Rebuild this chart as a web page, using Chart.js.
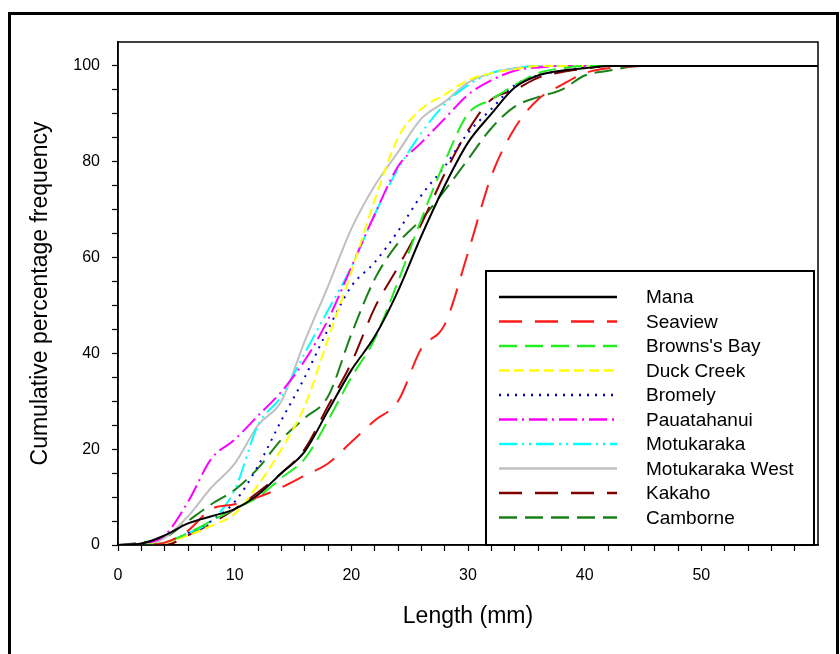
<!DOCTYPE html>
<html>
<head>
<meta charset="utf-8">
<title>Cumulative length frequency</title>
<script src="https://cdn.jsdelivr.net/npm/chart.js@4.4.1/dist/chart.umd.min.js"></script>
<style>
    body { margin: 0; background: #fff; }
    #chart { display: block; }
</style>
</head>
<body>
<canvas id="chart" width="840" height="654"></canvas>
<script>
// Length classes (mm) shared by every site
const lengths = [0, 2, 4, 6, 8, 10, 12, 14, 16, 18, 20, 22, 24, 26, 28, 30, 32, 34, 36, 38, 40, 42, 45, 50, 60];

// Cumulative percentage frequency per site
const mana        = [0, 0.3, 2, 4.5, 6, 7.5, 10.5, 15, 19.5, 28, 36.5, 43.5, 53, 64.5, 75, 84, 90, 95.5, 98, 99, 99.5, 100, 100, 100, 100];
const seaview     = [0, 0, 0.5, 3, 7.5, 8.5, 10, 12, 14.5, 17, 21.5, 26, 30, 41, 46, 61, 77, 87, 93, 96, 98.5, 99.5, 100, 100, 100];
const brownsBay   = [0, 0, 0.5, 2.5, 5, 7.5, 10, 14, 18, 26, 35, 43, 55, 68, 80, 90, 93, 96, 98.5, 99.5, 100, 100, 100, 100, 100];
const duckCreek   = [0, 0, 0.5, 2, 4, 6.5, 12.5, 20, 29, 43, 57, 72, 85, 91, 94, 97, 98.5, 99.3, 100, 100, 100, 100, 100, 100, 100];
const bromely     = [0, 0, 0.5, 2.5, 5, 9, 16.5, 26, 35, 45, 54, 59, 65.5, 73, 79, 86, 91, 96, 98, 99, 99.7, 100, 100, 100, 100];
const pauatahanui = [0, 0.3, 2, 9, 18, 22, 27, 32, 38.5, 47, 58, 69, 79, 84, 89, 94, 97, 99, 99.7, 100, 100, 100, 100, 100, 100];
const motukaraka  = [0, 0, 0.5, 2.5, 5, 11.5, 25, 31, 40, 49, 58, 69, 78.5, 86, 92, 96, 98.5, 99.5, 100, 100, 100, 100, 100, 100, 100];
const motuWest    = [0, 0, 1.5, 6, 12, 17, 25, 30, 42.5, 54, 66, 75, 82, 89, 92.5, 96.5, 98.5, 99.5, 100, 100, 100, 100, 100, 100, 100];
const kakaho      = [0, 0, 0, 2, 4.5, 7.5, 11, 15, 20, 29, 38, 49.5, 58, 67, 77.5, 86.5, 93, 95, 97.5, 98.7, 99.4, 100, 100, 100, 100];
const camborne    = [0, 0.5, 1.5, 5, 8.5, 11.5, 16, 22, 26.5, 31, 44, 55.5, 63, 68, 74, 80.5, 87, 91.5, 93.5, 95, 98, 99, 100, 100, 100];

const FONT = 'Arial, "Liberation Sans", sans-serif';

function series(label, values, color, dash, width) {
    return {
        label: label,
        data: lengths.map((x, i) => ({ x: x, y: values[i] })),
        borderColor: color,
        backgroundColor: color,
        borderDash: dash,
        borderWidth: width || 2,
        pointRadius: 0,
        fill: false,
        cubicInterpolationMode: 'monotone'
    };
}

// draws the outer frame, the axis box and the boxed legend inside the plot
const framePlugin = {
    id: 'frame',
    afterDraw(chart) {
        const ctx = chart.ctx;
        const area = chart.chartArea;
        ctx.save();
        ctx.fillStyle = '#000';
        ctx.fillRect(8, 12, 829, 3);
        ctx.fillRect(8, 12, 3, 642);
        ctx.fillRect(836, 12, 3, 642);

        ctx.strokeStyle = '#000';
        ctx.lineWidth = 1.5;
        ctx.setLineDash([]);
        ctx.strokeRect(area.left, area.top, area.right - area.left, area.bottom - area.top);

        // legend box
        const bx = 486, by = 271, bw = 328, bh = area.bottom - by;
        ctx.fillStyle = '#fff';
        ctx.fillRect(bx, by, bw, bh);
        ctx.lineWidth = 2;
        ctx.strokeRect(bx, by, bw, bh);

        ctx.font = '19px ' + FONT;
        ctx.textBaseline = 'middle';
        ctx.textAlign = 'left';
        chart.data.datasets.forEach((ds, i) => {
            const y = 297 + i * 24.5;
            ctx.strokeStyle = ds.borderColor;
            ctx.lineWidth = ds.borderWidth + 0.5;
            ctx.setLineDash(ds.borderDash || []);
            ctx.beginPath();
            ctx.moveTo(499, y);
            ctx.lineTo(617, y);
            ctx.stroke();
            ctx.fillStyle = '#000';
            ctx.fillText(ds.label, 646, y + 1);
        });
        ctx.restore();
    }
};

const ctx = document.getElementById('chart').getContext('2d');
new Chart(ctx, {
    type: 'line',
    data: {
        datasets: [
            series('Mana', mana, '#000000', []),
            series('Seaview', seaview, '#ff1a1a', [23, 13]),
            series("Browns's Bay", brownsBay, '#22ee22', [18, 8]),
            series('Duck Creek', duckCreek, '#ffff00', [10, 5]),
            series('Bromely', bromely, '#0000cc', [2, 6]),
            series('Pauatahanui', pauatahanui, '#ff00ff', [18, 5, 2, 5]),
            series('Motukaraka', motukaraka, '#00ffff', [18, 5, 2, 5, 2, 5]),
            series('Motukaraka West', motuWest, '#c0c0c0', []),
            series('Kakaho', kakaho, '#800000', [23, 13]),
            series('Camborne', camborne, '#1a801a', [18, 8])
        ]
    },
    options: {
        responsive: false,
        animation: false,
        layout: { padding: { top: 42, right: 22, left: 0, bottom: 0 } },
        plugins: {
            legend: { display: false },
            tooltip: { enabled: false }
        },
        scales: {
            x: {
                type: 'linear',
                min: 0,
                max: 60,
                afterFit: s => { s.height = 109; },
                afterBuildTicks: s => { s.ticks = s.ticks.filter(t => t.value < 60); },
                ticks: {
                    stepSize: 2,
                    autoSkip: false,
                    maxRotation: 0,
                    padding: 15,
                    color: '#000',
                    font: { family: FONT, size: 16 },
                    callback: v => (v % 10 === 0 ? v : '')
                },
                grid: { drawOnChartArea: false, tickLength: 6, tickColor: '#000', tickWidth: 1.2 },
                border: { color: '#000', width: 1.5 },
                title: {
                    display: true,
                    text: 'Length (mm)',
                    color: '#000',
                    font: { family: FONT, size: 23 },
                    padding: { top: 0, bottom: 24 }
                }
            },
            y: {
                min: 0,
                max: 105,
                afterFit: s => { s.width = 118; },
                afterBuildTicks: s => { s.ticks = s.ticks.filter(t => t.value <= 100); },
                ticks: {
                    stepSize: 5,
                    autoSkip: false,
                    padding: 12,
                    color: '#000',
                    font: { family: FONT, size: 16 },
                    callback: v => (v % 20 === 0 ? v : '')
                },
                grid: { drawOnChartArea: false, tickLength: 6, tickColor: '#000', tickWidth: 1.2 },
                border: { color: '#000', width: 1.5 },
                title: {
                    display: true,
                    text: 'Cumulative percentage frequency',
                    color: '#000',
                    font: { family: FONT, size: 23 },
                    padding: { top: 27, bottom: 0 }
                }
            }
        }
    },
    plugins: [framePlugin]
});
</script>
</body>
</html>
